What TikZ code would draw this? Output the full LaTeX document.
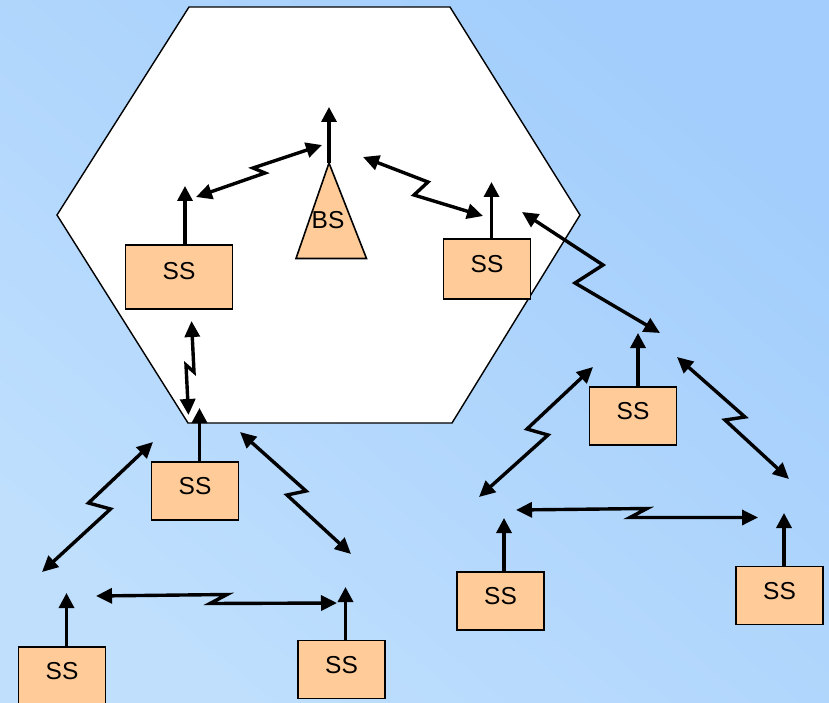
\documentclass[tikz,border=0pt]{standalone}
\usepackage{fontspec}
\setmainfont{Liberation Sans}
\usetikzlibrary{arrows.meta}
\definecolor{bglight}{RGB}{191,223,253}
\definecolor{bgdark}{RGB}{162,205,252}
\definecolor{peach}{RGB}{255,204,153}
\tikzset{
  ssbox/.style={draw=black, line width=1.6pt, fill=peach, minimum width=87pt,
    minimum height=58pt, inner sep=0pt, text height=17pt, text depth=10pt,
    font=\fontsize{24.5pt}{28pt}\selectfont},
  bslabel/.style={inner sep=0pt, font=\fontsize{24.5pt}{28pt}\selectfont},
  antenna/.style={line width=3.4pt, -{Triangle[length=15pt,width=15pt]}},
  link/.style={line width=3.4pt, line join=miter,
    {Triangle[length=16pt,width=15pt]}-{Triangle[length=16pt,width=15pt]}},
  hexline/.style={draw=black, line width=1.4pt, fill=white, line join=miter},
  bsline/.style={draw=black, line width=1.6pt, fill=peach, line join=miter}
}
\begin{document}
\begin{tikzpicture}[x=1pt,y=-1pt]
\useasboundingbox (0,0) rectangle (829,703);
\clip (0,0) rectangle (829,703);
\shade[top color=bgdark, bottom color=bglight, shading angle=-40] (0,0) rectangle (829,703);

% cell
\draw[hexline] (189,7) -- (450,7) -- (580,215) -- (452,423) -- (188,423) -- (57,215) -- cycle;

% base station
\coordinate (bsapex) at (329,163);
\coordinate (bsleft) at (296,258.5);
\coordinate (bsright) at (366.5,258.5);
\draw[bsline] (bsapex) -- (bsright) -- (bsleft) -- cycle;
\node[bslabel] (bs) at (328,220) {BS};

% subscriber stations
\node[ssbox, minimum width=107pt, minimum height=64pt, text depth=12pt] (A) at (179,277) {SS};
\node[ssbox, minimum height=60pt] (B) at (487,269) {SS};
\node[ssbox] (C) at (633,416) {SS};
\node[ssbox] (D) at (500.5,601) {SS};
\node[ssbox] (E) at (779.5,595.5) {SS};
\node[ssbox] (F) at (195,491) {SS};
\node[ssbox] (G) at (62,676) {SS};
\node[ssbox] (H) at (341.5,669.5) {SS};

% antenna tips
\coordinate (tA) at (185,186);
\coordinate (tBS) at (329,107);
\coordinate (tB) at (491.5,182);
\coordinate (tC) at (638,333);
\coordinate (tD) at (504,518);
\coordinate (tE) at (784,513);
\coordinate (tF) at (199.5,408);
\coordinate (tG) at (66.5,593);
\coordinate (tH) at (345.5,587);

\draw[antenna] (A.north -| tA) -- (tA);
\draw[antenna] (bsapex) -- (tBS);
\draw[antenna] (B.north -| tB) -- (tB);
\draw[antenna] (C.north -| tC) -- (tC);
\draw[antenna] (D.north -| tD) -- (tD);
\draw[antenna] (E.north -| tE) -- (tE);
\draw[antenna] (F.north -| tF) -- (tF);
\draw[antenna] (G.north -| tG) -- (tG);
\draw[antenna] (H.north -| tH) -- (tH);

% radio links (zigzag double arrows)
\coordinate (l1a) at (196,197);   \coordinate (l1j) at (265,173);   \coordinate (l1k) at (253,168);   \coordinate (l1b) at (322,145);
\coordinate (l2a) at (363,157);   \coordinate (l2j) at (428,182);   \coordinate (l2k) at (414,195);   \coordinate (l2b) at (483,216);
\coordinate (l3a) at (522,212);   \coordinate (l3j) at (603,265);   \coordinate (l3k) at (575,283);   \coordinate (l3b) at (660,333);
\coordinate (l4a) at (593,367);   \coordinate (l4j) at (527,429);   \coordinate (l4k) at (548,435);   \coordinate (l4b) at (479,497);
\coordinate (l5a) at (677,357);   \coordinate (l5j) at (745,417);   \coordinate (l5k) at (725,420);   \coordinate (l5b) at (789,479);
\coordinate (l6a) at (516,510);   \coordinate (l6j) at (647,508.5); \coordinate (l6k) at (630,517.5); \coordinate (l6b) at (758,517.5);
\coordinate (l7a) at (153,442);   \coordinate (l7j) at (88.5,503);  \coordinate (l7k) at (110.5,509); \coordinate (l7b) at (42,572);
\coordinate (l8a) at (240,432);   \coordinate (l8j) at (306,491);   \coordinate (l8k) at (287,495);   \coordinate (l8b) at (351,554);
\coordinate (l9a) at (96,596);    \coordinate (l9j) at (227,594.5); \coordinate (l9k) at (210,603.5); \coordinate (l9b) at (337,603);
\coordinate (l10a) at (191.5,321); \coordinate (l10j) at (194,372); \coordinate (l10k) at (186,365); \coordinate (l10b) at (188.5,415);

\foreach \i in {1,...,10}{
  \draw[link] (l\i a) -- (l\i j) -- (l\i k) -- (l\i b);
}
\end{tikzpicture}
\end{document}
